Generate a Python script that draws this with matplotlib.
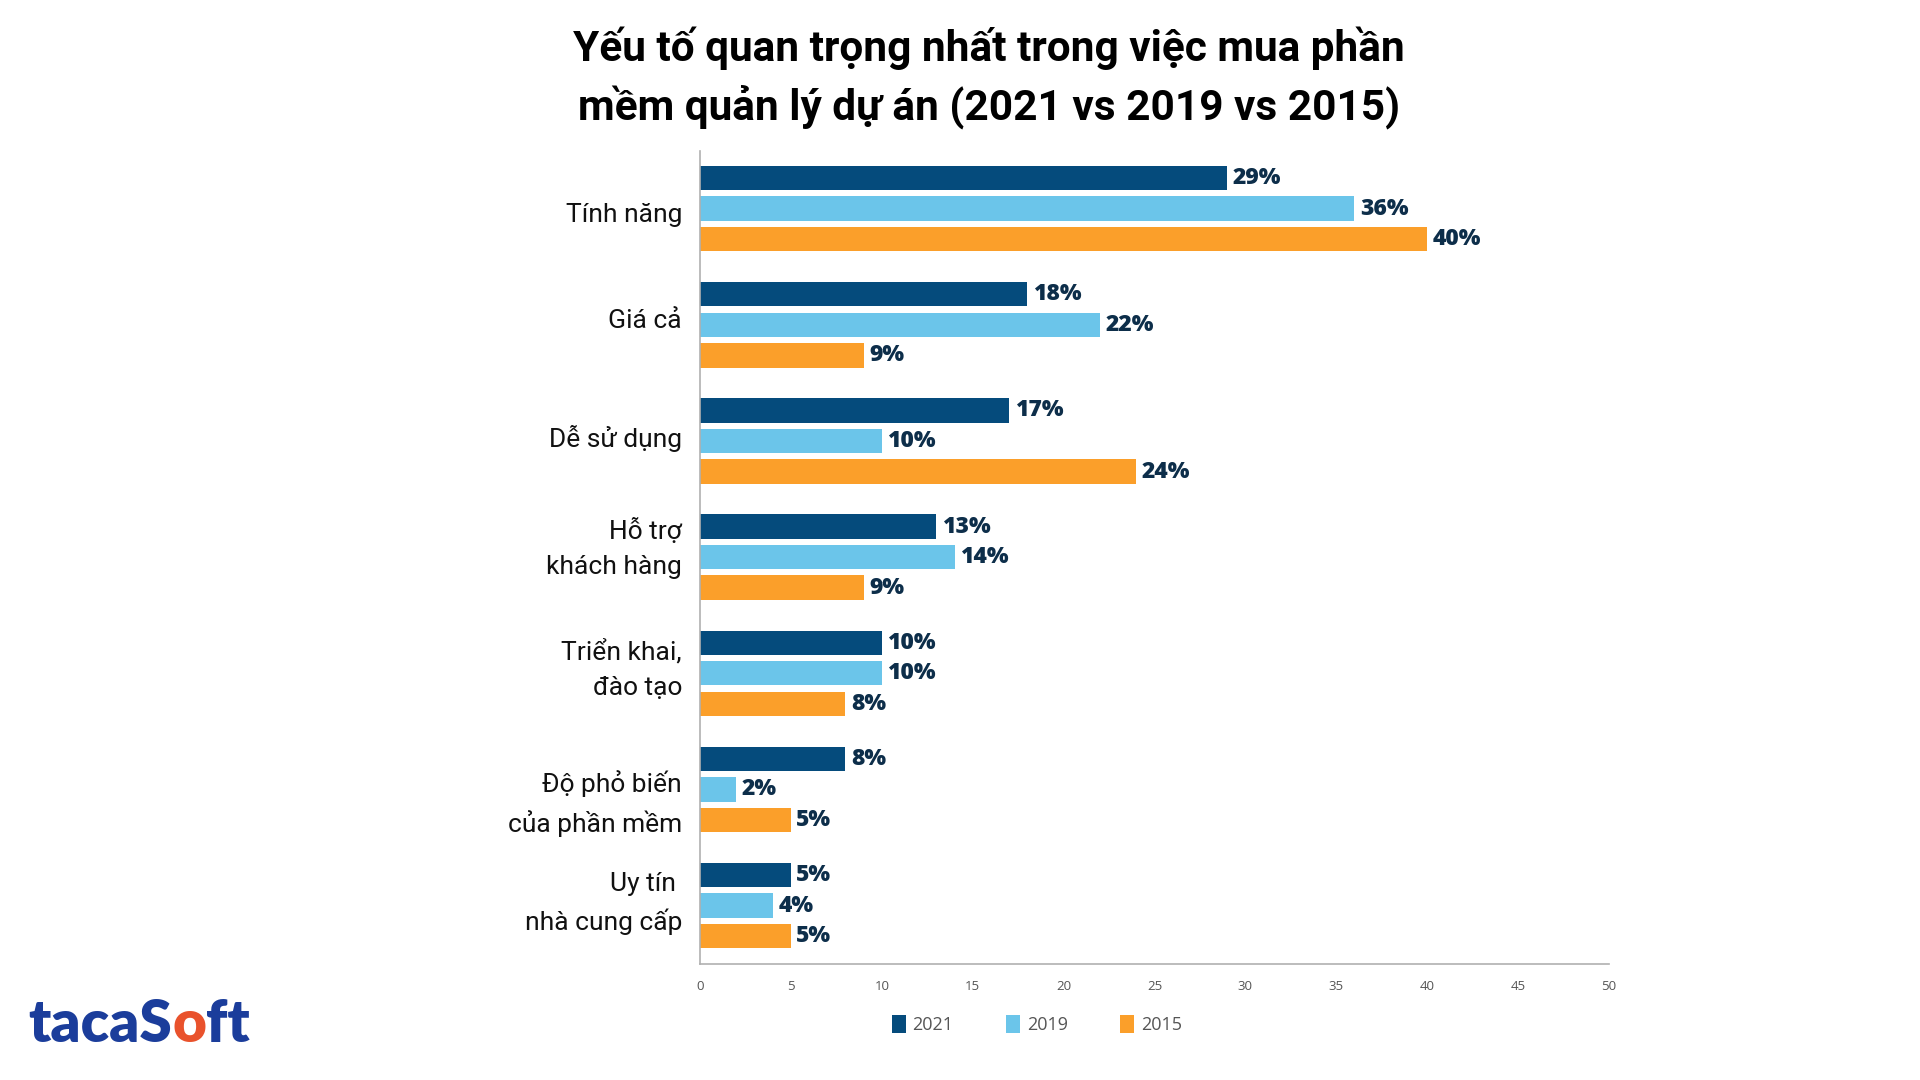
import numpy as np
import matplotlib.pyplot as plt
from matplotlib.transforms import ScaledTranslation
from matplotlib.offsetbox import TextArea, HPacker, AnchoredOffsetbox

# --- Data ---
CATEGORIES = ["Tính năng", "Giá cả", "Dễ sử dụng", "Hỗ trợ\nkhách hàng",
              "Triển khai,\nđào tạo", "Độ phỏ biến\ncủa phần mềm", "Uy tín \nnhà cung cấp"]
YEARS = ["2021", "2019", "2015"]
VALS_2021 = [29, 18, 17, 13, 10, 8, 5]
VALS_2019 = [36, 22, 10, 14, 10, 2, 4]
VALS_2015 = [40, 9, 24, 9, 8, 5, 5]
X_TICKS = [0, 5, 10, 15, 20, 25, 30, 35, 40, 45, 50]

COLORS = ["#054b7c", "#6bc5ea", "#fb9f2a"]
LABEL_COLOR = "#0d2e4a"
# small vertical nudges of the category labels (pixels, positive = down)
LABEL_NUDGE = [4, -6, -5, -17, -12, 5, -11]

plt.rcParams['font.family'] = ['Roboto', 'DejaVu Sans']

fig = plt.figure(figsize=(19.2, 10.8), dpi=100)
ax = fig.add_axes([0.3646, 0.1077, 0.4734, 0.7529])

y = np.arange(len(CATEGORIES))
offset = 0.263
height = 0.21
for k, vals in enumerate([VALS_2021, VALS_2019, VALS_2015]):
    pos = y + (k - 1) * offset
    ax.barh(pos, vals, height=height, color=COLORS[k], label=YEARS[k])
    for p, v in zip(pos, vals):
        ax.text(v + 0.3, p, f"{v}%", va='center', ha='left', fontsize=16.5,
                fontweight='heavy', color=LABEL_COLOR, family=['Open Sans', 'DejaVu Sans'])

ax.set_xlim(0, 50)
ax.set_ylim(6.5, -0.5)
ax.set_xticks(X_TICKS)
ax.set_xticklabels([str(t) for t in X_TICKS], fontsize=9.5, color='#555555',
                   family=['Open Sans', 'DejaVu Sans'])
ax.set_yticks(y)
ax.set_yticklabels(CATEGORIES, fontsize=19, color='#111111', linespacing=1.6)
ax.tick_params(axis='both', length=0)
ax.tick_params(axis='y', pad=13)
ax.tick_params(axis='x', pad=12)

for lbl, dy in zip(ax.get_yticklabels(), LABEL_NUDGE):
    lbl.set_transform(lbl.get_transform() + ScaledTranslation(0, -dy / 100, fig.dpi_scale_trans))

for s in ['top', 'right']:
    ax.spines[s].set_visible(False)
ax.spines['left'].set_color('#b0b0b0')
ax.spines['bottom'].set_color('#b0b0b0')
ax.spines['left'].set_linewidth(1.2)
ax.spines['bottom'].set_linewidth(1.2)

# Title
fig.text(0.515, 0.975, "Yếu tố quan trọng nhất trong việc mua phần\nmềm quản lý dự án (2021 vs 2019 vs 2015)",
         ha='center', va='top', fontsize=30.5, fontweight='bold', color='#000000', linespacing=1.4)

# Legend
leg = fig.legend(loc='center', bbox_to_anchor=(0.54, 0.051), ncol=3, frameon=False,
                 handlelength=0.8, handleheight=1.15, handletextpad=0.35, columnspacing=2.9,
                 prop={'family': ['Open Sans', 'DejaVu Sans'], 'size': 13})
for t in leg.get_texts():
    t.set_color('#555555')

# Logo
logo_font = dict(size=42, weight='heavy', family=['Lato', 'DejaVu Sans'])
parts = [TextArea("tacaS", textprops=dict(color='#1b3d9b', **logo_font)),
         TextArea("o", textprops=dict(color='#e9522c', **logo_font)),
         TextArea("ft", textprops=dict(color='#1b3d9b', **logo_font))]
box = HPacker(children=parts, align='baseline', pad=0, sep=0)
anch = AnchoredOffsetbox(loc='lower left', child=box, frameon=False,
                         bbox_to_anchor=(0.012, 0.022), bbox_transform=fig.transFigure, borderpad=0)
fig.add_artist(anch)

fig.savefig("out.png", dpi=100)
